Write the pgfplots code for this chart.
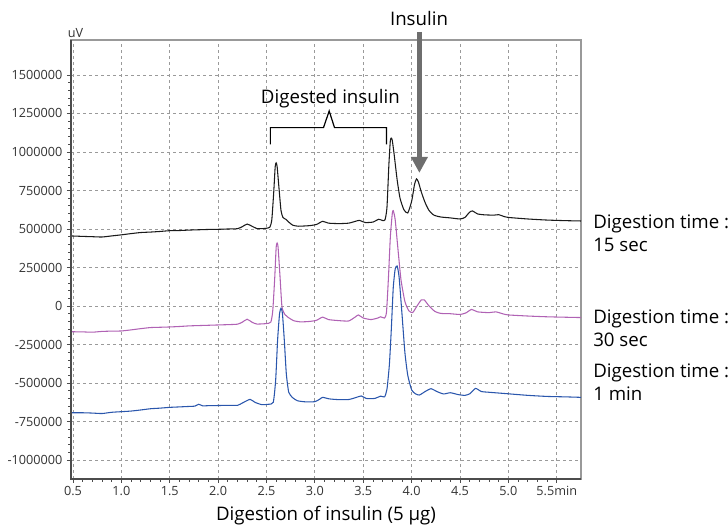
\documentclass[border=0pt]{standalone}
\usepackage{pgfplots}
\pgfplotsset{compat=1.18}
\usepackage{pgfplotstable}
\usepackage{fontspec}
\setmainfont{Open Sans}
\usetikzlibrary{arrows.meta}

\definecolor{trace15}{HTML}{1A1A1A}
\definecolor{trace30}{HTML}{B062B4}
\definecolor{trace60}{HTML}{2A56AC}
\definecolor{arrowgray}{HTML}{6E6E6E}
\definecolor{gridgray}{HTML}{9A9A9A}
\definecolor{ticktext}{HTML}{333333}

% digestion 15 sec
\pgfplotstableread{
t uv
0.48 455000
0.6 452000
0.7 450000
0.8 448000
0.9 455000
1.0 462000
1.1 470000
1.2 477000
1.3 480000
1.4 484000
1.5 489000
1.6 490000
1.7 493000
1.8 495000
1.9 497000
2.0 498000
2.1 500000
2.2 502000
2.25 515000
2.3 532000
2.35 518000
2.4 503000
2.45 502000
2.5 505000
2.535 512000
2.555 560000
2.575 740000
2.59 905000
2.60 929000
2.61 905000
2.63 760000
2.65 620000
2.67 575000
2.70 563000
2.73 545000
2.77 525000
2.83 518000
2.95 522000
3.02 530000
3.08 550000
3.14 538000
3.25 535000
3.35 538000
3.42 550000
3.46 556000
3.52 542000
3.6 545000
3.66 563000
3.70 555000
3.725 560000
3.745 640000
3.765 920000
3.78 1075000
3.79 1090000
3.80 1075000
3.82 980000
3.85 820000
3.88 700000
3.92 625000
3.96 604000
4.00 680000
4.03 790000
4.05 825000
4.07 805000
4.10 740000
4.14 670000
4.18 620000
4.23 590000
4.3 578000
4.4 572000
4.5 565000
4.55 575000
4.6 610000
4.63 617000
4.68 598000
4.75 592000
4.85 590000
4.9 593000
4.95 582000
5.0 575000
5.2 565000
5.4 558000
5.6 554000
5.75 552000
}\fifteen

% digestion 30 sec
\pgfplotstableread{
t uv
0.48 -167000
0.6 -168000
0.7 -170000
0.8 -165000
0.9 -163000
1.0 -162000
1.1 -155000
1.2 -147000
1.3 -140000
1.4 -138000
1.5 -136000
1.6 -133000
1.7 -129000
1.8 -127000
1.9 -125000
2.0 -123000
2.1 -121000
2.2 -118000
2.25 -105000
2.3 -86000
2.35 -105000
2.4 -117000
2.5 -114000
2.545 -104000
2.565 -30000
2.585 180000
2.60 380000
2.61 409000
2.62 380000
2.64 190000
2.66 -5000
2.69 -55000
2.72 -72000
2.78 -95000
2.85 -103000
2.95 -100000
3.02 -92000
3.08 -72000
3.14 -88000
3.25 -95000
3.35 -97000
3.42 -70000
3.45 -58000
3.5 -78000
3.58 -88000
3.65 -78000
3.68 -70000
3.72 -78000
3.74 -40000
3.76 180000
3.78 450000
3.80 600000
3.81 619000
3.83 560000
3.86 360000
3.89 170000
3.93 30000
3.97 -30000
4.01 -43000
4.05 -5000
4.1 40000
4.13 40000
4.18 0
4.24 -35000
4.3 -48000
4.4 -50000
4.5 -55000
4.56 -45000
4.62 -22000
4.68 -38000
4.8 -43000
4.87 -38000
4.95 -52000
5.0 -58000
5.2 -65000
5.4 -70000
5.6 -73000
5.75 -75000
}\thirty

% digestion 1 min
\pgfplotstableread{
t uv
0.48 -693000
0.6 -693000
0.7 -695000
0.8 -698000
0.9 -690000
1.0 -686000
1.1 -682000
1.2 -675000
1.3 -667000
1.4 -663000
1.5 -658000
1.6 -655000
1.7 -652000
1.76 -650000
1.8 -638000
1.84 -648000
1.9 -647000
2.0 -646000
2.1 -645000
2.2 -645000
2.25 -630000
2.33 -606000
2.38 -625000
2.45 -640000
2.52 -638000
2.57 -625000
2.595 -480000
2.615 -220000
2.635 -50000
2.65 -15000
2.665 -50000
2.685 -230000
2.705 -440000
2.73 -560000
2.77 -595000
2.82 -615000
2.9 -622000
3.0 -621000
3.05 -605000
3.08 -593000
3.15 -603000
3.25 -608000
3.35 -607000
3.42 -595000
3.48 -584000
3.53 -600000
3.62 -600000
3.68 -585000
3.72 -590000
3.745 -540000
3.77 -380000
3.79 -150000
3.81 120000
3.83 240000
3.85 260000
3.87 190000
3.90 -50000
3.93 -300000
3.96 -450000
4.0 -545000
4.04 -570000
4.08 -578000
4.14 -555000
4.2 -537000
4.26 -555000
4.33 -571000
4.4 -563000
4.48 -575000
4.55 -580000
4.6 -570000
4.66 -535000
4.72 -555000
4.8 -560000
4.9 -565000
5.0 -570000
5.2 -580000
5.4 -587000
5.6 -590000
5.75 -593000
}\onemin

\begin{document}
\begin{tikzpicture}
\begin{axis}[
    at={(53.25pt,38.25pt)}, anchor=south west,
    scale only axis, width=382.5pt, height=329.25pt,
    xmin=0.48, xmax=5.75, ymin=-1123000, ymax=1727000,
    clip=false,
    scaled ticks=false,
    xtick={0.5,1.0,1.5,2.0,2.5,3.0,3.5,4.0,4.5,5.0,5.5},
    xticklabels={0.5,1.0,1.5,2.0,2.5,3.0,3.5,4.0,4.5,5.0,5.5min},
    ytick={-1000000,-750000,-500000,-250000,0,250000,500000,750000,1000000,1250000,1500000},
    yticklabels={-1000000,-750000,-500000,-250000,0,250000,500000,750000,1000000,1250000,1500000},
    minor x tick num=4, minor y tick num=4,
    tick pos=left, tick align=outside,
    major tick length=3pt, minor tick length=2pt,
    tick style={black!70, line width=0.6pt},
    ticklabel style={font=\fontsize{9.5}{11}\selectfont, text=ticktext},
    xticklabel style={yshift=1pt},
    grid=major,
    major grid style={gridgray, line width=0.6pt, dash pattern=on 2.5pt off 2pt},
    axis line style={draw=gray!80, line width=0.8pt},
    every axis plot/.append style={line width=0.8pt, smooth, tension=0.35},
]
\addplot[trace15] table[x=t, y=uv] {\fifteen};
\addplot[trace30] table[x=t, y=uv] {\thirty};
\addplot[trace60] table[x=t, y=uv] {\onemin};

% left and bottom axis lines darker than the box
\draw[black!70, line width=1pt] (rel axis cs:0,1) -- (rel axis cs:0,0) -- (rel axis cs:1,0);

% bracket over the digested insulin peaks
\draw[black, line width=0.9pt]
    (axis cs:2.54,1050000) -- (axis cs:2.54,1158000) -- (axis cs:3.089,1158000)
    -- (axis cs:3.148,1266000) -- (axis cs:3.203,1158000) -- (axis cs:3.74,1158000)
    -- (axis cs:3.74,1050000);
\node[font=\fontsize{14}{17}\selectfont] at (axis cs:3.16,1345000) {Digested insulin};

% insulin arrow
\draw[arrowgray, line width=4.1pt, -{Triangle[width=12pt,length=12pt]}]
    (axis cs:4.08,1779000) -- (axis cs:4.08,864000);
\end{axis}

\begin{scope}[x=0.75pt, y=-0.75pt, yshift=397.5pt]
\node[font=\fontsize{9.5}{11}\selectfont, text=ticktext] at (75.5,33) {uV};
\node[font=\fontsize{14}{17}\selectfont] at (419,19) {Insulin};
\node[font=\fontsize{14}{17}\selectfont] at (326,516) {Digestion of insulin (5 μg)};
\node[font=\fontsize{14}{17.6}\selectfont, anchor=west, align=left, inner sep=0pt] at (593,233) {Digestion time :\\15 sec};
\node[font=\fontsize{14}{17.6}\selectfont, anchor=west, align=left, inner sep=0pt] at (593,328) {Digestion time :\\30 sec};
\node[font=\fontsize{14}{17.6}\selectfont, anchor=west, align=left, inner sep=0pt] at (593,382) {Digestion time :\\1 min};
\end{scope}

\pgfresetboundingbox
\path[use as bounding box] (0,0) rectangle (546pt,397.5pt);
\end{tikzpicture}
\end{document}
